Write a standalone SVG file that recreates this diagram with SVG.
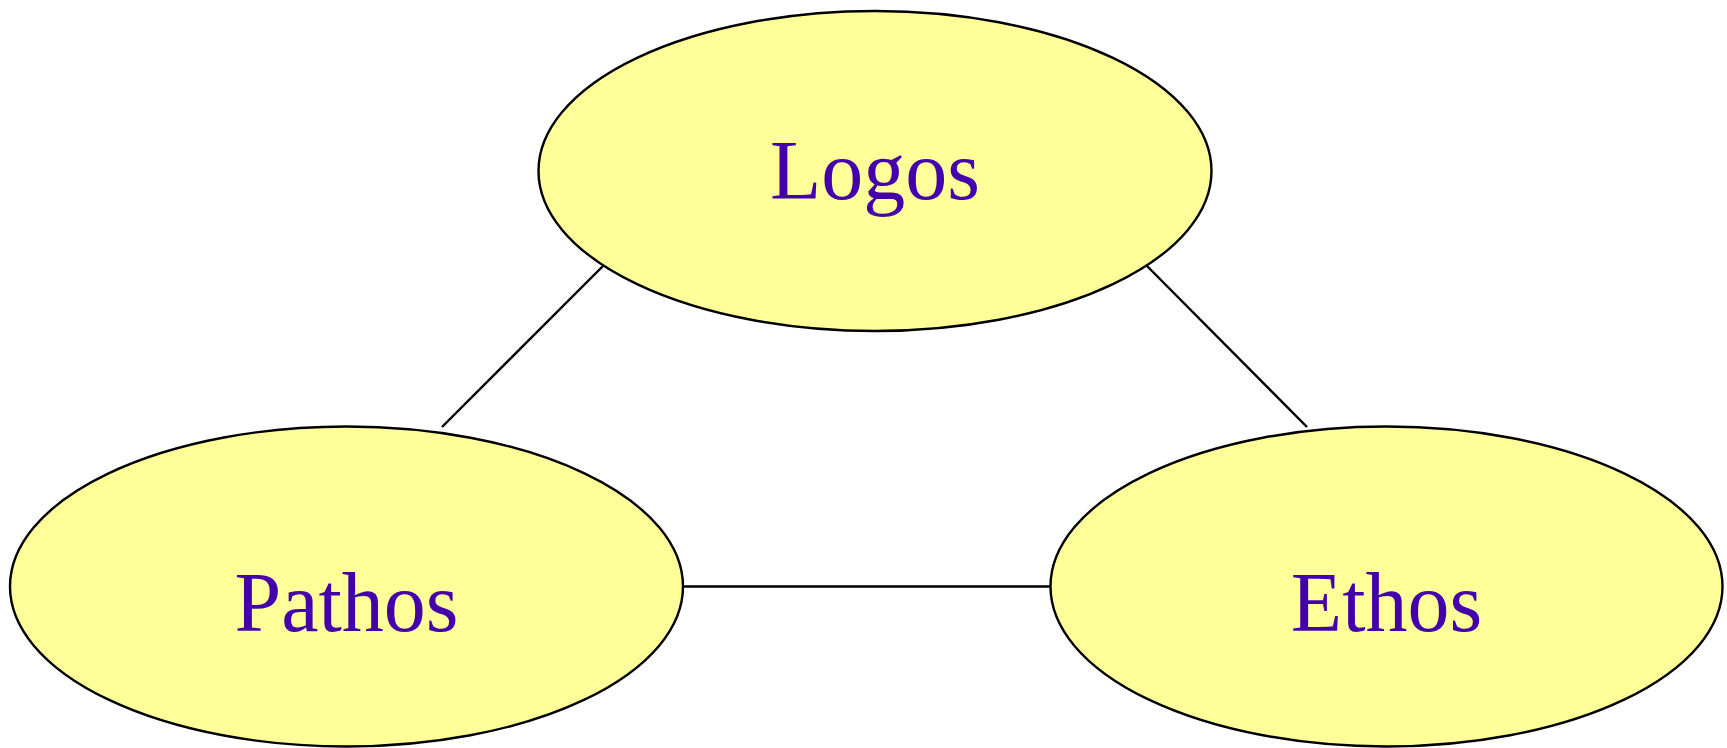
<svg xmlns="http://www.w3.org/2000/svg" width="1727" height="748" viewBox="0 0 1727 748">
<style>
.node ellipse{fill:#ffff99;stroke:#000;stroke-width:2.4}
.node text{font-family:"Liberation Serif","Times New Roman",serif;font-size:84px;fill:#4400aa;text-anchor:middle}
.conn line{stroke:#000;stroke-width:2.4}
</style>
<rect width="1727" height="748" fill="#fff"/>
<g id="connectors" class="conn">
<line x1="603" y1="266" x2="442" y2="427"/>
<line x1="1147" y1="266" x2="1307" y2="427"/>
<line x1="683" y1="586.5" x2="1051" y2="586.5"/>
</g>
<g id="logos" class="node">
<ellipse cx="875" cy="171" rx="336.5" ry="160"/>
<text x="875" y="199">Logos</text>
</g>
<g id="pathos" class="node">
<ellipse cx="346.5" cy="586.5" rx="336.5" ry="160"/>
<text x="346.5" y="630.5">Pathos</text>
</g>
<g id="ethos" class="node">
<ellipse cx="1386.5" cy="586.5" rx="336" ry="160"/>
<text x="1386.5" y="630.5">Ethos</text>
</g>
</svg>
